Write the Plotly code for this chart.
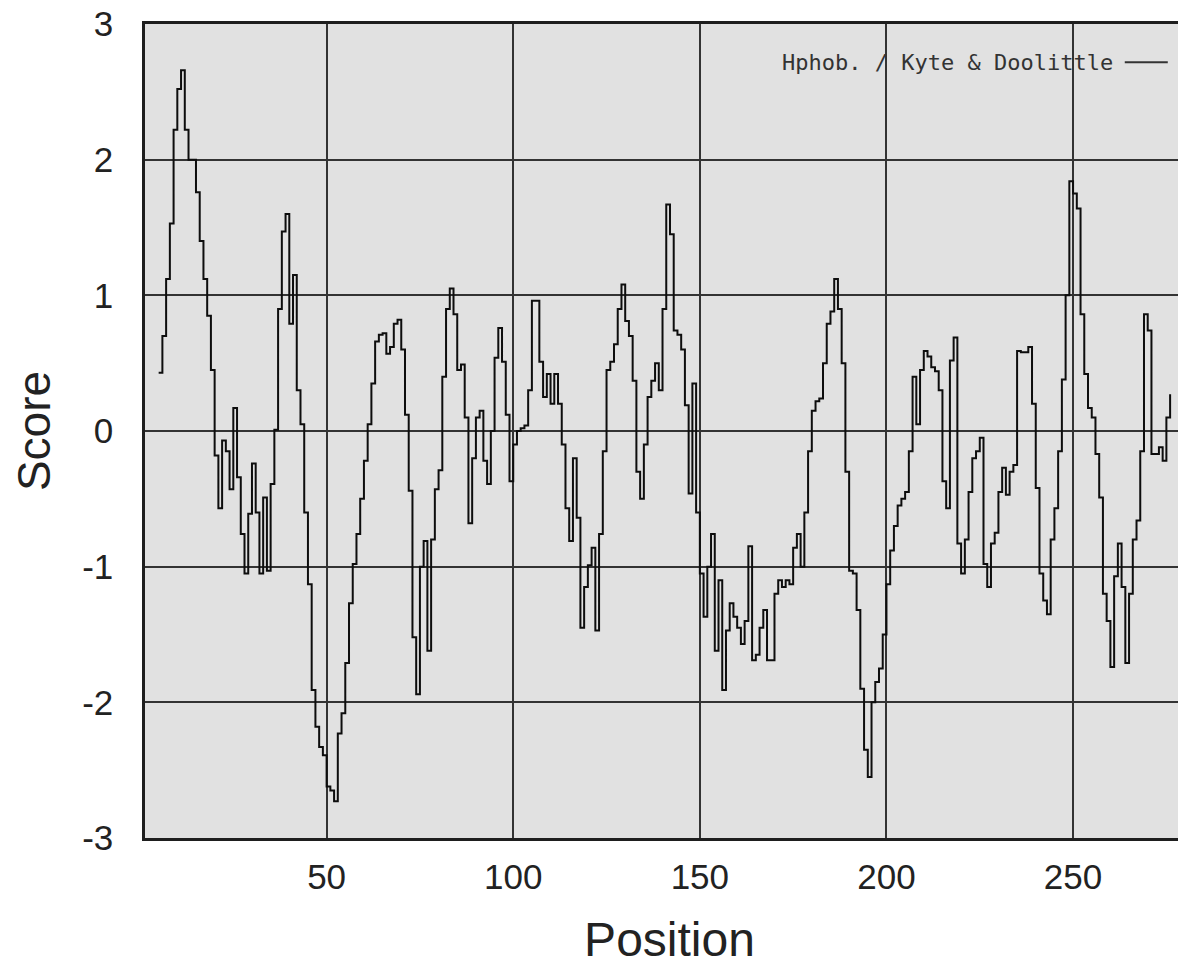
import plotly.graph_objects as go

# Kyte & Doolittle hydropathy scores, one per residue position (window centre)
start_position = 5
scores = [
    0.43, 0.70, 1.12, 1.53, 2.22, 2.52, 2.66, 2.22, 2.00, 2.00,   # 5-14
    1.76, 1.40, 1.12, 0.85, 0.45, -0.18, -0.57, -0.07, -0.15, -0.43,  # 15-24
    0.17, -0.34, -0.76, -1.05, -0.61, -0.24, -0.60, -1.05, -0.49, -1.03,  # 25-34
    -0.39, 0.01, 0.90, 1.47, 1.60, 0.79, 1.15, 0.30, 0.05, -0.60,  # 35-44
    -1.13, -1.91, -2.18, -2.33, -2.39, -2.62, -2.65, -2.73, -2.23, -2.08,  # 45-54
    -1.71, -1.27, -0.98, -0.76, -0.50, -0.22, 0.05, 0.35, 0.66, 0.71,  # 55-64
    0.72, 0.57, 0.62, 0.79, 0.82, 0.60, 0.12, -0.44, -1.52, -1.94,  # 65-74
    -1.00, -0.81, -1.62, -0.80, -0.43, -0.29, 0.40, 0.90, 1.05, 0.86,  # 75-84
    0.45, 0.49, 0.10, -0.68, -0.20, 0.10, 0.15, -0.22, -0.39, 0.00,  # 85-94
    0.54, 0.76, 0.51, 0.12, -0.37, -0.10, 0.00, 0.02, 0.04, 0.30,  # 95-104
    0.96, 0.96, 0.51, 0.25, 0.42, 0.20, 0.42, 0.20, -0.10, -0.57,  # 105-114
    -0.81, -0.20, -0.64, -1.45, -1.15, -0.99, -0.86, -1.47, -0.76, -0.15,  # 115-124
    0.45, 0.51, 0.64, 0.90, 1.08, 0.81, 0.70, 0.37, -0.30, -0.50,  # 125-134
    -0.10, 0.25, 0.37, 0.50, 0.30, 0.90, 1.67, 1.45, 0.74, 0.71,  # 135-144
    0.60, 0.19, -0.46, 0.35, -0.60, -1.05, -1.37, -1.00, -0.76, -1.62,  # 145-154
    -1.10, -1.91, -1.47, -1.27, -1.37, -1.45, -1.57, -1.40, -0.85, -1.69,  # 155-164
    -1.65, -1.45, -1.32, -1.69, -1.69, -1.20, -1.10, -1.15, -1.10, -1.13,  # 165-174
    -0.86, -0.76, -1.00, -0.60, -0.15, 0.15, 0.22, 0.24, 0.50, 0.79,  # 175-184
    0.88, 1.12, 0.90, 0.50, -0.30, -1.03, -1.05, -1.32, -1.90, -2.35,  # 185-194
    -2.55, -2.00, -1.85, -1.75, -1.50, -1.13, -0.88, -0.70, -0.55, -0.50,  # 195-204
    -0.45, -0.15, 0.40, 0.05, 0.45, 0.59, 0.55, 0.47, 0.44, 0.30,  # 205-214
    -0.37, -0.57, 0.52, 0.69, -0.83, -1.05, -0.80, -0.45, -0.20, -0.15,  # 215-224
    -0.05, -0.98, -1.15, -0.83, -0.75, -0.45, -0.27, -0.47, -0.30, -0.25,  # 225-234
    0.59, 0.58, 0.58, 0.62, 0.20, -0.42, -1.05, -1.25, -1.35, -0.80,  # 235-244
    -0.57, -0.15, 0.38, 1.00, 1.84, 1.75, 1.64, 0.86, 0.42, 0.17,  # 245-254
    0.10, -0.17, -0.49, -1.20, -1.40, -1.74, -1.07, -0.83, -1.15, -1.71,  # 255-264
    -1.20, -0.80, -0.66, -0.15, 0.86, 0.74, -0.17, -0.17, -0.12, -0.22,  # 265-274
    0.10, 0.27,  # 275-276
]
positions = [start_position + i for i in range(len(scores))]

x_tick_values = [50, 100, 150, 200, 250]
x_tick_labels = ["50", "100", "150", "200", "250"]
y_tick_values = [3, 2, 1, 0, -1, -2, -3]
y_tick_labels = ["3", "2", "1", "0", "-1", "-2", "-3"]
legend_label = "Hphob. / Kyte & Doolittle"

fig = go.Figure()
fig.add_trace(go.Scatter(
    x=positions, y=scores, mode="lines", line_shape="hv",
    line=dict(color="#0d0d0d", width=2), showlegend=False,
    hoverinfo="x+y",
))

grid_color = "#333333"
fig.update_xaxes(
    range=[1.34, 282.4], tickvals=x_tick_values, ticktext=x_tick_labels,
    showgrid=True, gridcolor=grid_color, gridwidth=1.8,
    showline=True, linecolor="#1e1e1e", linewidth=3, mirror=True,
    ticks="", zeroline=False, ticklabelstandoff=6, ticklabeloverflow="allow",
    automargin=False,
    tickfont=dict(family="Liberation Sans, Arial, sans-serif", size=35, color="#222222"),
    title=dict(text="Position", standoff=28,
               font=dict(family="Liberation Sans, Arial, sans-serif", size=48, color="#222222")),
)
fig.update_yaxes(
    range=[-3, 3], tickvals=y_tick_values, ticktext=y_tick_labels,
    showgrid=True, gridcolor=grid_color, gridwidth=1.8,
    showline=True, linecolor="#1e1e1e", linewidth=2.5, mirror=False,
    ticks="", zeroline=False, ticklabelstandoff=22, ticklabeloverflow="allow",
    automargin=False,
    tickfont=dict(family="Liberation Sans, Arial, sans-serif", size=35, color="#222222"),
    title=dict(text="Score", standoff=18,
               font=dict(family="Liberation Sans, Arial, sans-serif", size=46, color="#222222")),
)

fig.add_annotation(
    xref="paper", yref="paper", x=0.925, y=0.953, xanchor="right", yanchor="middle",
    text=legend_label, showarrow=False,
    font=dict(family="DejaVu Sans Mono, monospace", size=22, color="#333333"),
)
fig.add_shape(
    type="line", xref="paper", yref="paper", x0=0.934, x1=0.975, y0=0.953, y1=0.953,
    line=dict(color="#333333", width=1.8),
)

fig.update_layout(
    width=1186, height=968,
    margin=dict(l=137, r=0, t=16, b=138),
    paper_bgcolor="white", plot_bgcolor="#e1e1e1",
)

fig.write_html("out.html")
